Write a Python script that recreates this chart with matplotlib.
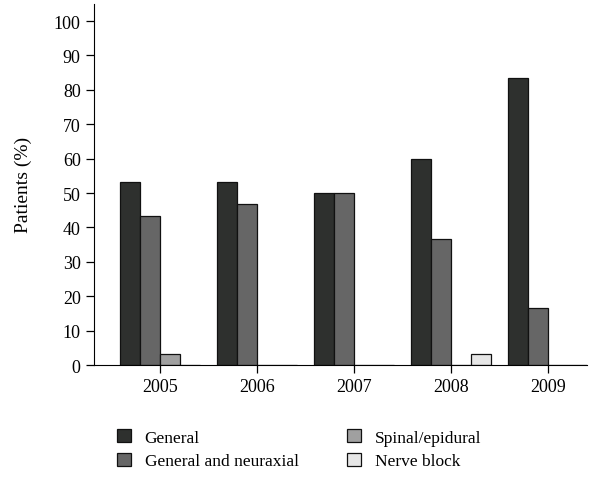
import numpy as np
import matplotlib
matplotlib.use('Agg')
import matplotlib.pyplot as plt

plt.rcParams['font.family'] = ['Liberation Serif', 'DejaVu Serif']

years = ['2005', '2006', '2007', '2008', '2009']
general = [53.3, 53.3, 50.0, 60.0, 83.3]
general_neuraxial = [43.3, 46.7, 50.0, 36.7, 16.7]
spinal = [3.3, 0, 0, 0, 0]
nerve_block = [0, 0, 0, 3.3, 0]

series = [
    ('General', general, '#2e302e'),
    ('General and neuraxial', general_neuraxial, '#666666'),
    ('Spinal/epidural', spinal, '#a0a0a0'),
    ('Nerve block', nerve_block, '#e6e6e6'),
]

fig = plt.figure(figsize=(6.14, 4.81), dpi=100)
ax = fig.add_axes([0.153, 0.239, 0.803, 0.751])

x = np.arange(len(years))
w = 0.206
for i, (name, vals, col) in enumerate(series):
    ax.bar(x + (i - 1.5) * w, vals, width=w, color=col, edgecolor='#111111',
           linewidth=0.9, label=name)

ax.set_xlim(-0.68, 4.4)
ax.set_ylim(0, 105)
ax.set_yticks(range(0, 101, 10))
ax.set_xticks(x)
ax.set_xticklabels(years)
ax.spines['top'].set_visible(False)
ax.spines['right'].set_visible(False)
ax.tick_params(axis='both', labelsize=13, length=6, direction='out', width=0.9)
ax.set_ylabel('Patients (%)', fontsize=14, labelpad=16)

h, l = ax.get_legend_handles_labels()
fig.legend(h, l, ncol=2, loc='center left', bbox_to_anchor=(0.165, 0.064),
           frameon=False, fontsize=12.5, handlelength=0.8, handleheight=0.8,
           columnspacing=2.8, labelspacing=0.4, handletextpad=0.8)

fig.savefig('out.png', dpi=100)
